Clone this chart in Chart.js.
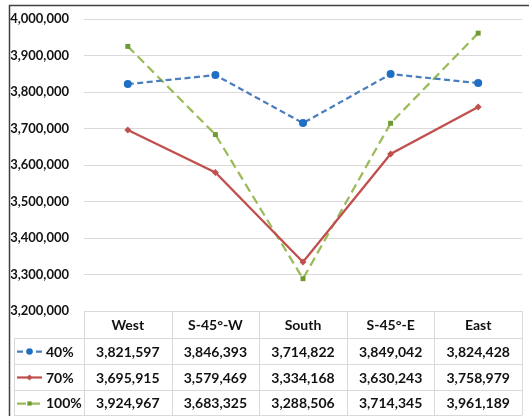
<!DOCTYPE html>
<html>
<head>
<meta charset="utf-8">
<script src="https://cdn.jsdelivr.net/npm/chart.js@4.4.1/dist/chart.umd.min.js"></script>
<style>
  html, body { margin: 0; padding: 0; background: #fff; }
  #wrap { width: 529px; height: 416px; position: relative; }
</style>
</head>
<body>
<div id="wrap"><canvas id="c" width="529" height="416"></canvas></div>
<script>
// Orientation categories and totals for each ratio
const categories = ['West', 'S-45°-W', 'South', 'S-45°-E', 'East'];
const seriesNames = ['40%', '70%', '100%'];
const values40 = [3821597, 3846393, 3714822, 3849042, 3824428];
const values70 = [3695915, 3579469, 3334168, 3630243, 3758979];
const values100 = [3924967, 3683325, 3288506, 3714345, 3961189];
const yMin = 3200000;
const yMax = 4000000;
const yStep = 100000;

const FONT = '"Lato", "Open Sans", sans-serif';
const fmt = v => Number(v).toLocaleString('en-US');

const datasets = [
  { label: seriesNames[0], data: values40, borderColor: '#4a7ebf', backgroundColor: '#1f6fc4',
    borderDash: [6, 3.5], pointStyle: 'circle', pointRadius: 4, keyRadius: 3.2 },
  { label: seriesNames[1], data: values70, borderColor: '#c0504d', backgroundColor: '#c0504d',
    borderDash: [], pointStyle: 'rectRot', pointRadius: 3.5, keyRadius: 3 },
  { label: seriesNames[2], data: values100, borderColor: '#9bbb59', backgroundColor: '#6f9a32',
    borderDash: [9, 5], pointStyle: 'rect', pointRadius: 3.5, keyRadius: 3 }
].map(d => Object.assign({
  borderWidth: 2.25, pointBorderWidth: 0, pointBorderColor: d.backgroundColor,
  tension: 0, fill: false
}, d));

// Data table under the plot plus the outer frame
const tablePlugin = {
  id: 'dataTable',
  afterDraw(chart) {
    const ctx = chart.ctx;
    const area = chart.chartArea;
    const xs = chart.scales.x;
    const colW = (area.right - area.left) / categories.length;
    const keyLeft = 14;
    const headerH = 27;
    const rowH = [26, 26, 25];
    const top = area.bottom;
    const rowTops = [top + headerH];
    for (let i = 1; i <= rowH.length; i++) rowTops.push(rowTops[i - 1] + rowH[i - 1]);
    const bottom = rowTops[rowTops.length - 1];

    ctx.save();
    // grid lines of the table
    ctx.strokeStyle = '#d9d9d9';
    ctx.lineWidth = 1;
    ctx.beginPath();
    ctx.moveTo(area.left, Math.round(top) + 0.5); ctx.lineTo(area.right, Math.round(top) + 0.5);
    rowTops.forEach(y => { ctx.moveTo(keyLeft, Math.round(y) + 0.5); ctx.lineTo(area.right, Math.round(y) + 0.5); });
    for (let i = 0; i <= categories.length; i++) {
      const x = Math.round(area.left + i * colW) + 0.5;
      ctx.moveTo(x, top); ctx.lineTo(x, bottom);
    }
    ctx.moveTo(keyLeft + 0.5, rowTops[0]); ctx.lineTo(keyLeft + 0.5, bottom);
    ctx.stroke();

    // header and values
    ctx.fillStyle = '#111';
    ctx.textAlign = 'center';
    ctx.textBaseline = 'middle';
    ctx.font = 'bold 14px ' + FONT;
    categories.forEach((c, i) => {
      ctx.fillText(c, xs.getPixelForValue(i), top + headerH / 2 + 1);
    });
    chart.data.datasets.forEach((ds, r) => {
      const cy = rowTops[r] + rowH[r] / 2 + 1;
      ds.data.forEach((v, i) => {
        ctx.fillText(fmt(v), xs.getPixelForValue(i), cy);
      });
      // legend key: line sample with its marker
      const kx0 = 17, kx1 = 42, ky = Math.round(rowTops[r] + rowH[r] / 2) + 0.5;
      ctx.save();
      ctx.strokeStyle = ds.borderColor;
      ctx.lineWidth = ds.borderWidth;
      ctx.setLineDash(ds.borderDash);
      ctx.beginPath(); ctx.moveTo(kx0, ky); ctx.lineTo(kx1, ky); ctx.stroke();
      ctx.setLineDash([]);
      ctx.fillStyle = ds.backgroundColor;
      Chart.helpers.drawPoint(ctx, {
        pointStyle: ds.pointStyle, radius: ds.keyRadius, rotation: 0, borderWidth: 0
      }, (kx0 + kx1) / 2, ky);
      ctx.restore();
      ctx.fillStyle = '#111';
      ctx.textAlign = 'left';
      ctx.fillText(ds.label, 46, cy);
      ctx.textAlign = 'center';
    });

    // outer frame
    ctx.strokeStyle = '#404040';
    ctx.lineWidth = 1.5;
    ctx.beginPath();
    ctx.moveTo(9.5, chart.height); ctx.lineTo(9.5, 5.5); ctx.lineTo(chart.width, 5.5);
    ctx.stroke();
    ctx.restore();
  }
};

new Chart(document.getElementById('c'), {
  type: 'line',
  data: { labels: categories, datasets },
  options: {
    responsive: false,
    animation: false,
    devicePixelRatio: 1,
    layout: { padding: { left: 9, top: 19, right: 7, bottom: 105 } },
    plugins: { legend: { display: false }, tooltip: { enabled: false } },
    scales: {
      x: { display: false, offset: true },
      y: {
        min: yMin, max: yMax,
        afterFit: s => { s.width = 75; s.paddingTop = 0; s.paddingBottom = 0; },
        border: { display: false },
        grid: { color: '#d9d9d9', lineWidth: 1, drawTicks: false },
        ticks: {
          stepSize: yStep, padding: 15, color: '#111',
          font: { family: FONT, size: 13, weight: 'bold' },
          callback: v => fmt(v)
        }
      }
    }
  },
  plugins: [tablePlugin]
});
</script>
</body>
</html>
